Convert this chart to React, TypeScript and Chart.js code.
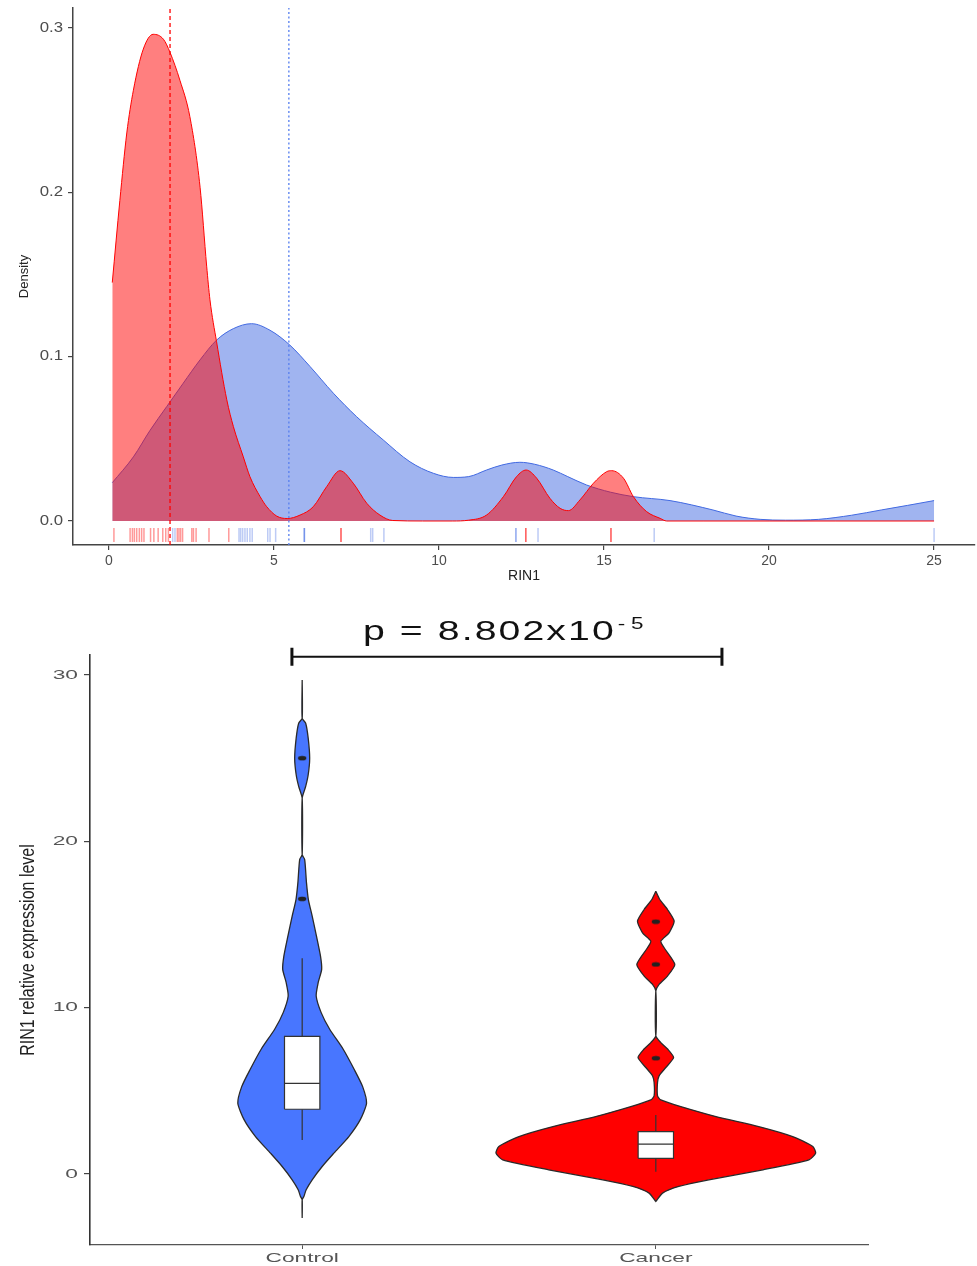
import React, { useEffect, useRef } from "react";
import { Chart, registerables } from "chart.js";

Chart.register(...registerables);

// ---------------- Top panel: density of RIN1 ----------------
const DENSITY_X_TICKS = [0, 5, 10, 15, 20, 25];
const DENSITY_Y_TICKS = [0, 0.1, 0.2, 0.3];

const CONTROL_DENS_X = [0.1, 0.74, 1.24, 1.75, 2.25, 2.76, 3.26, 3.77, 4.32, 4.88, 5.48, 6.09, 6.8, 7.5, 8.31, 9.12, 9.83, 10.43, 10.9, 11.44, 11.9, 12.45, 12.9, 13.46, 13.9, 14.47, 15.2, 15.89, 17.0, 18.3, 19.0, 19.73, 20.5, 21.5, 22.5, 23.4, 24.2, 25];
const CONTROL_DENS_Y = [0.0233, 0.039, 0.055, 0.0696, 0.0838, 0.098, 0.11, 0.117, 0.12, 0.116, 0.107, 0.094, 0.0777, 0.0635, 0.0493, 0.036, 0.029, 0.0265, 0.027, 0.031, 0.034, 0.0357, 0.0345, 0.031, 0.027, 0.0219, 0.0175, 0.0148, 0.0124, 0.0067, 0.003, 0.001, 0.0005, 0.001, 0.0035, 0.0067, 0.0095, 0.0124];

const CANCER_DENS_X = [0.1, 0.33, 0.54, 0.74, 1.04, 1.34, 1.65, 1.85, 2.15, 2.45, 2.76, 2.96, 3.06, 3.26, 3.57, 3.77, 4.07, 4.27, 4.58, 4.78, 5.08, 5.4, 5.79, 6.19, 6.6, 7.0, 7.4, 7.81, 8.21, 8.6, 9.5, 10.4, 10.9, 11.44, 11.95, 12.35, 12.64, 12.96, 13.36, 13.67, 13.92, 14.27, 14.68, 15.08, 15.23, 15.59, 15.89, 16.29, 16.7, 16.9, 18, 20, 22, 25];
const CANCER_DENS_Y = [0.145, 0.195, 0.236, 0.262, 0.287, 0.296, 0.293, 0.285, 0.268, 0.246, 0.203, 0.155, 0.1345, 0.109, 0.0737, 0.0574, 0.039, 0.027, 0.0148, 0.0087, 0.003, 0.0015, 0.0036, 0.0087, 0.021, 0.0306, 0.023, 0.0108, 0.0036, 0.0003, 0, 0, 0.0005, 0.0036, 0.0148, 0.027, 0.031, 0.026, 0.0138, 0.0077, 0.0063, 0.0128, 0.023, 0.03, 0.0306, 0.026, 0.0148, 0.0057, 0.0016, 0, 0, 0, 0, 0];

const CONTROL_RUG = [1.93, 2.0, 3.94, 3.99, 4.05, 4.12, 4.19, 4.27, 4.34, 4.81, 4.88, 5.05, 5.92, 5.92, 5.92, 7.93, 7.99, 8.33, 12.33, 12.33, 13.0, 16.52, 25.0];
const CANCER_RUG = [0.15, 0.64, 0.71, 0.77, 0.84, 0.92, 0.99, 1.06, 1.26, 1.36, 1.49, 1.63, 1.72, 1.8, 2.07, 2.12, 2.17, 2.23, 2.51, 2.56, 2.64, 3.03, 3.63, 7.03, 7.03, 12.63, 12.63, 15.21, 15.21];

const CONTROL_CENTER_LINE = 5.45;
const CANCER_CENTER_LINE = 1.85;

// ---------------- Bottom panel: violin + box ----------------
const GROUPS = ["Control", "Cancer"];
const VIOLIN_Y_TICKS = [0, 10, 20, 30];

const CONTROL_VIOLIN_Y = [29.7, 27.4, 27.1, 26.2, 25.0, 24.0, 23.3, 22.6, 19.2, 18.9, 17.5, 16.5, 15.5, 14.3, 13.1, 12.3, 11.5, 10.7, 9.7, 8.7, 7.5, 6.25, 5.25, 4.25, 3.25, 2.25, 1.25, 0.45, -0.35, -0.95, -1.35, -1.55, -2.65];
const CONTROL_VIOLIN_HW = [0, 0, 0.0099, 0.017, 0.0212, 0.017, 0.0099, 0, 0, 0.0071, 0.0122, 0.0175, 0.0283, 0.0404, 0.0518, 0.0551, 0.0452, 0.0396, 0.0537, 0.0778, 0.116, 0.148, 0.171, 0.182, 0.164, 0.132, 0.0896, 0.0566, 0.0283, 0.0113, 0.0048, 0, 0];

const CANCER_VIOLIN_Y = [17.0, 16.5, 15.9, 15.2, 14.5, 14.0, 13.6, 12.6, 11.9, 11.4, 11.0, 8.3, 7.9, 7.5, 7.0, 6.4, 5.9, 5.5, 4.7, 4.45, 4.05, 3.45, 2.85, 2.25, 1.65, 1.25, 0.85, 0.25, -0.35, -0.75, -1.15, -1.65];
const CANCER_VIOLIN_HW = [0, 0.0113, 0.0331, 0.0518, 0.0376, 0.0141, 0.0235, 0.0537, 0.0331, 0.0093, 0, 0, 0.0141, 0.0339, 0.0503, 0.0283, 0.0093, 0.0048, 0.0048, 0.0141, 0.0707, 0.17, 0.291, 0.387, 0.444, 0.452, 0.433, 0.303, 0.15, 0.065, 0.019, 0];

// [lower whisker, Q1, median, Q3, upper whisker]
const CONTROL_BOX = [2.04, 3.89, 5.45, 8.27, 12.97];
const CANCER_BOX = [0.14, 0.94, 1.8, 2.55, 3.55];
const CONTROL_OUTLIERS = [16.54, 25.0];
const CANCER_OUTLIERS = [6.96, 12.6, 15.17];

const P_TEXT = "p = 8.802x10";
const P_EXPONENT = "-5";
const BRACKET_X = [0.971, 2.187];
const BRACKET_Y = 31.09;
const BRACKET_CAP = [30.55, 31.63];

const BOX_HALF = 0.05;

const FONT = "'Liberation Sans', Arial, sans-serif";

function pts(xs: number[], ys: number[]) {
  return xs.map((x, i) => ({ x, y: ys[i] }));
}

function violinPolygon(center: number, ys: number[], hws: number[]) {
  const right = ys.map((y, i) => ({ x: center + hws[i], y }));
  const left = ys.map((y, i) => ({ x: center - hws[i], y })).reverse();
  return [...right, ...left, right[0]];
}

function drawText(
  ctx: CanvasRenderingContext2D,
  text: string,
  x: number,
  y: number,
  o: { font: string; color: string; align?: CanvasTextAlign; baseline?: CanvasTextBaseline; sx?: number; sy?: number; rotate?: number; spacing?: string }
) {
  ctx.save();
  ctx.translate(x, y);
  if (o.rotate) ctx.rotate(o.rotate);
  ctx.scale(o.sx ?? 1, o.sy ?? 1);
  ctx.font = o.font;
  ctx.fillStyle = o.color;
  ctx.textAlign = o.align ?? "left";
  ctx.textBaseline = o.baseline ?? "alphabetic";
  if (o.spacing) (ctx as any).letterSpacing = o.spacing;
  ctx.fillText(text, 0, 0);
  ctx.restore();
}

function makeDot(): HTMLCanvasElement {
  const c = document.createElement("canvas");
  c.width = 10;
  c.height = 6;
  const g = c.getContext("2d")!;
  g.fillStyle = "#222";
  g.beginPath();
  g.ellipse(5, 3, 4.2, 2.3, 0, 0, Math.PI * 2);
  g.fill();
  return c;
}

const zeroPad = (s: any) => {
  s.paddingLeft = 0;
  s.paddingRight = 0;
  s.paddingTop = 0;
  s.paddingBottom = 0;
};

function DensityChart() {
  const ref = useRef<HTMLCanvasElement>(null);
  useEffect(() => {
    const Y_MIN = -0.0146;
    const Y_MAX = 0.312;
    const RUG_Y = -0.0085;
    const titles = {
      id: "densityTitles",
      afterDraw(chart: any) {
        const { ctx, chartArea, scales } = chart;
        DENSITY_Y_TICKS.forEach((v) => {
          drawText(ctx, v.toFixed(1), chartArea.left - 10, scales.y.getPixelForValue(v), {
            font: `14px ${FONT}`, color: "#4d4d4d", align: "right", baseline: "middle", sx: 1.2,
          });
        });
        drawText(ctx, "RIN1", (chartArea.left + chartArea.right) / 2, 576, {
          font: `14px ${FONT}`, color: "#222", align: "center", baseline: "middle",
        });
        drawText(ctx, "Density", 24, (chartArea.top + chartArea.bottom) / 2, {
          font: `13px ${FONT}`, color: "#222", align: "center", baseline: "middle", rotate: -Math.PI / 2,
        });
      },
    };
    const chart = new Chart(ref.current!, {
      type: "line",
      data: {
        datasets: [
          {
            label: "Control rug",
            type: "scatter",
            data: CONTROL_RUG.map((x) => ({ x, y: RUG_Y })),
            pointStyle: "line",
            pointRadius: 7,
            pointRotation: 90,
            pointBorderColor: "rgba(65,105,225,0.35)",
            pointBorderWidth: 1.5,
            showLine: false,
            order: 2,
          } as any,
          {
            label: "Cancer rug",
            type: "scatter",
            data: CANCER_RUG.map((x) => ({ x, y: RUG_Y })),
            pointStyle: "line",
            pointRadius: 7,
            pointRotation: 90,
            pointBorderColor: "rgba(255,0,0,0.4)",
            pointBorderWidth: 1.5,
            showLine: false,
            order: 2,
          } as any,
          {
            label: "Cancer center",
            data: [{ x: CANCER_CENTER_LINE, y: Y_MIN }, { x: CANCER_CENTER_LINE, y: Y_MAX }],
            borderColor: "rgba(255,0,0,1)",
            borderWidth: 1.3,
            borderDash: [4, 3],
            pointRadius: 0,
            fill: false,
            order: 0,
          },
          {
            label: "Control center",
            data: [{ x: CONTROL_CENTER_LINE, y: Y_MIN }, { x: CONTROL_CENTER_LINE, y: Y_MAX }],
            borderColor: "rgba(90,130,240,0.9)",
            borderWidth: 1.5,
            borderDash: [2, 2.5],
            pointRadius: 0,
            fill: false,
            order: 0,
          },
          {
            label: "Cancer",
            data: pts(CANCER_DENS_X, CANCER_DENS_Y),
            borderColor: "rgb(255,0,0)",
            backgroundColor: "rgba(255,0,0,0.5)",
            borderWidth: 1,
            pointRadius: 0,
            fill: "origin",
            cubicInterpolationMode: "monotone",
            order: 3,
          },
          {
            label: "Control",
            data: pts(CONTROL_DENS_X, CONTROL_DENS_Y),
            borderColor: "rgb(65,105,225)",
            backgroundColor: "rgba(65,105,225,0.5)",
            borderWidth: 1,
            pointRadius: 0,
            fill: "origin",
            cubicInterpolationMode: "monotone",
            order: 4,
          },
        ],
      },
      options: {
        animation: false,
        responsive: false,
        devicePixelRatio: 1,
        layout: { autoPadding: false, padding: { top: 8, right: 2, left: 0, bottom: 0 } },
        plugins: { legend: { display: false }, tooltip: { enabled: false }, title: { display: false } },
        scales: {
          x: {
            type: "linear",
            min: -1.09,
            max: 26.24,
            afterBuildTicks: (s: any) => { s.ticks = DENSITY_X_TICKS.map((v) => ({ value: v })); },
            afterFit: (s: any) => { s.height = 50; zeroPad(s); },
            ticks: { color: "#4d4d4d", font: { family: FONT, size: 14 }, padding: 3, maxRotation: 0, callback: (v: any) => String(v) },
            grid: { display: true, drawOnChartArea: false, drawTicks: true, tickLength: 5, color: "#444", lineWidth: 1.2 },
            border: { display: true, color: "#444", width: 1.5 },
          },
          y: {
            type: "linear",
            min: Y_MIN,
            max: Y_MAX,
            afterBuildTicks: (s: any) => { s.ticks = DENSITY_Y_TICKS.map((v) => ({ value: v })); },
            afterFit: (s: any) => { s.width = 73; zeroPad(s); },
            ticks: { display: false },
            grid: { display: true, drawOnChartArea: false, drawTicks: true, tickLength: 5, color: "#444", lineWidth: 1.2 },
            border: { display: true, color: "#444", width: 1.5 },
          },
        },
      } as any,
      plugins: [titles],
    });
    return () => chart.destroy();
  }, []);
  return <canvas ref={ref} width={977} height={595} style={{ position: "absolute", left: 0, top: 0 }} />;
}

function ViolinChart() {
  const ref = useRef<HTMLCanvasElement>(null);
  useEffect(() => {
    const dot = makeDot();
    const box = (c: number, b: number[]) => [
      { x: c - BOX_HALF, y: b[1] }, { x: c + BOX_HALF, y: b[1] }, { x: c + BOX_HALF, y: b[3] }, { x: c - BOX_HALF, y: b[3] }, { x: c - BOX_HALF, y: b[1] },
    ];
    const whiskers = (c: number, b: number[]) => [
      { x: c, y: b[0] }, { x: c, y: b[1] }, { x: c, y: null }, { x: c, y: b[3] }, { x: c, y: b[4] },
    ];
    const median = (c: number, b: number[]) => [{ x: c - BOX_HALF, y: b[2] }, { x: c + BOX_HALF, y: b[2] }];

    const annotations = {
      id: "violinText",
      afterDraw(chart: any) {
        const { ctx, scales } = chart;
        const xs = scales.x;
        const ys = scales.y;
        VIOLIN_Y_TICKS.forEach((v) => {
          drawText(ctx, String(v), xs.left - 12, ys.getPixelForValue(v), {
            font: `13px ${FONT}`, color: "#555", align: "right", baseline: "middle", sx: 1.75,
          });
        });
        GROUPS.forEach((g, i) => {
          drawText(ctx, g, xs.getPixelForValue(i + 1), ys.bottom + 13, {
            font: `13px ${FONT}`, color: "#555", align: "center", baseline: "middle", sx: 1.75,
          });
        });
        drawText(ctx, "RIN1 relative expression level", 28, (ys.top + ys.bottom) / 2, {
          font: `16px ${FONT}`, color: "#222", align: "center", baseline: "middle", rotate: -Math.PI / 2, sy: 1.25,
        });
        const cx = (xs.getPixelForValue(BRACKET_X[0]) + xs.getPixelForValue(BRACKET_X[1])) / 2;
        const by = ys.getPixelForValue(BRACKET_Y);
        ctx.save();
        ctx.font = `28px ${FONT}`;
        (ctx as any).letterSpacing = "1.5px";
        const w1 = ctx.measureText(P_TEXT).width * 1.4;
        ctx.font = `16px ${FONT}`;
        (ctx as any).letterSpacing = "4px";
        const w2 = ctx.measureText(P_EXPONENT).width * 1.4;
        ctx.restore();
        const x0 = cx - (w1 + w2 + 4) / 2;
        drawText(ctx, P_TEXT, x0, by - 17, { font: `28px ${FONT}`, color: "#111", sx: 1.4, spacing: "1.5px" });
        drawText(ctx, P_EXPONENT, x0 + w1 + 2, by - 28, { font: `16px ${FONT}`, color: "#111", sx: 1.4, spacing: "4px" });
      },
    };

    const chart = new Chart(ref.current!, {
      type: "line",
      data: {
        datasets: [
          {
            label: "bracket",
            data: [{ x: BRACKET_X[0], y: BRACKET_Y }, { x: BRACKET_X[1], y: BRACKET_Y }],
            borderColor: "#111",
            borderWidth: 2,
            pointRadius: 0,
            fill: false,
            clip: false,
            order: 0,
          } as any,
          {
            label: "bracket caps",
            data: [
              { x: BRACKET_X[0], y: BRACKET_CAP[0] }, { x: BRACKET_X[0], y: BRACKET_CAP[1] }, { x: BRACKET_X[0], y: null },
              { x: BRACKET_X[1], y: BRACKET_CAP[0] }, { x: BRACKET_X[1], y: BRACKET_CAP[1] },
            ],
            borderColor: "#111",
            borderWidth: 3,
            pointRadius: 0,
            fill: false,
            spanGaps: false,
            clip: false,
            order: 0,
          } as any,
          {
            label: "outliers",
            type: "scatter",
            data: [
              ...CONTROL_OUTLIERS.map((y) => ({ x: 1, y })),
              ...CANCER_OUTLIERS.map((y) => ({ x: 2, y })),
            ],
            pointStyle: dot,
            pointRadius: 4,
            showLine: false,
            order: 1,
          } as any,
          {
            label: "medians",
            data: [...median(1, CONTROL_BOX), { x: 1.5, y: null }, ...median(2, CANCER_BOX)],
            borderColor: "#333",
            borderWidth: 1.2,
            pointRadius: 0,
            fill: false,
            spanGaps: false,
            order: 2,
          } as any,
          {
            label: "Control box",
            data: box(1, CONTROL_BOX),
            borderColor: "#333",
            backgroundColor: "#ffffff",
            borderWidth: 1.2,
            pointRadius: 0,
            fill: "shape",
            order: 3,
          } as any,
          {
            label: "Cancer box",
            data: box(2, CANCER_BOX),
            borderColor: "#333",
            backgroundColor: "#ffffff",
            borderWidth: 1.2,
            pointRadius: 0,
            fill: "shape",
            order: 3,
          } as any,
          {
            label: "whiskers",
            data: [...whiskers(1, CONTROL_BOX), { x: 1.5, y: null }, ...whiskers(2, CANCER_BOX)],
            borderColor: "#333",
            borderWidth: 1.2,
            pointRadius: 0,
            fill: false,
            spanGaps: false,
            order: 4,
          } as any,
          {
            label: "Control violin",
            data: violinPolygon(1, CONTROL_VIOLIN_Y, CONTROL_VIOLIN_HW),
            borderColor: "#2a2a2a",
            backgroundColor: "#4876FF",
            borderWidth: 1.3,
            pointRadius: 0,
            fill: "shape",
            tension: 0.2,
            order: 5,
          } as any,
          {
            label: "Cancer violin",
            data: violinPolygon(2, CANCER_VIOLIN_Y, CANCER_VIOLIN_HW),
            borderColor: "#2a2a2a",
            backgroundColor: "#FF0000",
            borderWidth: 1.3,
            pointRadius: 0,
            fill: "shape",
            tension: 0.2,
            order: 5,
          } as any,
        ],
      },
      options: {
        animation: false,
        responsive: false,
        devicePixelRatio: 1,
        layout: { autoPadding: false, padding: { top: 60, right: 109, left: 0, bottom: 0 } },
        plugins: { legend: { display: false }, tooltip: { enabled: false }, title: { display: false } },
        scales: {
          x: {
            type: "linear",
            min: 0.4,
            max: 2.6,
            afterBuildTicks: (s: any) => { s.ticks = GROUPS.map((_, i) => ({ value: i + 1 })); },
            afterFit: (s: any) => { s.height = 21; zeroPad(s); },
            ticks: { display: false },
            grid: { display: true, drawOnChartArea: false, drawTicks: true, tickLength: 4, color: "#555", lineWidth: 1 },
            border: { display: true, color: "#555", width: 1.3 },
          },
          y: {
            type: "linear",
            min: -4.27,
            max: 31.2,
            afterBuildTicks: (s: any) => { s.ticks = VIOLIN_Y_TICKS.map((v) => ({ value: v })); },
            afterFit: (s: any) => { s.width = 90; zeroPad(s); },
            ticks: { display: false },
            grid: { display: true, drawOnChartArea: false, drawTicks: true, tickLength: 6, color: "#444", lineWidth: 1.2 },
            border: { display: true, color: "#333", width: 1.6 },
          },
        },
      } as any,
      plugins: [annotations],
    });
    return () => chart.destroy();
  }, []);
  return <canvas ref={ref} width={977} height={671} style={{ position: "absolute", left: 0, top: 595 }} />;
}

export default function App() {
  return (
    <div style={{ position: "absolute", left: 0, top: 0, width: 977, height: 1266, background: "#fff" }}>
      <DensityChart />
      <ViolinChart />
    </div>
  );
}
